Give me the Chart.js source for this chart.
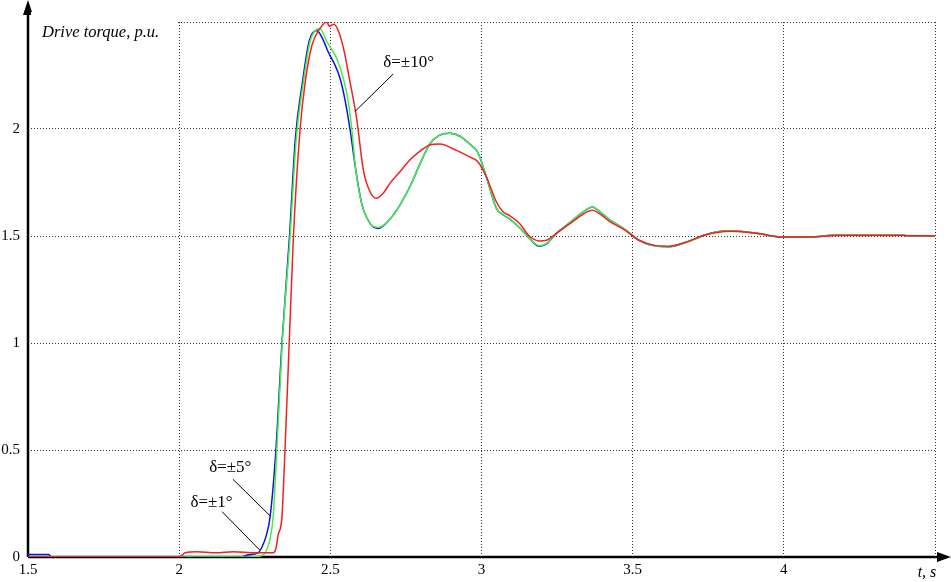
<!DOCTYPE html>
<html>
<head>
<meta charset="utf-8">
<script src="https://cdn.jsdelivr.net/npm/chart.js@4/dist/chart.umd.min.js"></script>
<style>
  html, body { margin: 0; padding: 0; background: #fff; }
  #wrap { width: 951px; height: 582px; }
</style>
</head>
<body>
<div id="wrap"><canvas id="torqueChart" width="951" height="582"></canvas></div>
<script>
// ================= DATA =================
const xTicks = [1.5, 2, 2.5, 3, 3.5, 4];
const yTicks = [0, 0.5, 1, 1.5, 2];

// delta = +-1 deg (blue)
const timeBlue = [1.5, 1.57, 1.575, 2.2, 2.23, 2.262, 2.275, 2.288, 2.301, 2.32, 2.34, 2.365, 2.384, 2.408, 2.43, 2.455, 2.475, 2.493, 2.515, 2.532, 2.548, 2.565,
  2.584, 2.604, 2.631, 2.658, 2.685, 2.719, 2.763, 2.807, 2.829, 2.86, 2.895, 2.93, 2.961, 2.988, 3.016, 3.049, 3.07, 3.093, 3.125, 3.158, 3.191, 3.215, 3.246, 3.29,
  3.334, 3.367, 3.39, 3.422, 3.477, 3.521, 3.576, 3.62, 3.684, 3.739, 3.78, 3.825, 3.87, 3.923, 3.96, 3.989, 4.087, 4.174, 4.392, 4.41, 4.5];
const torqueBlue = [0.012, 0.012, 0, 0, 0.01, 0.02, 0.05, 0.1, 0.19, 0.5, 1.0, 1.5, 1.95, 2.22, 2.41, 2.46, 2.42, 2.36, 2.30, 2.237, 2.14, 2.0,
  1.81, 1.65, 1.56, 1.535, 1.56, 1.62, 1.73, 1.87, 1.93, 1.97, 1.98, 1.965, 1.93, 1.89, 1.777, 1.63, 1.6, 1.58, 1.54, 1.49, 1.452, 1.463, 1.51, 1.56,
  1.61, 1.635, 1.615, 1.578, 1.528, 1.48, 1.453, 1.45, 1.474, 1.505, 1.52, 1.525, 1.52, 1.51, 1.5, 1.495, 1.495, 1.505, 1.505, 1.5, 1.5];

// delta = +-5 deg (green)
const timeGreen = [1.5, 2.2, 2.27, 2.285, 2.3, 2.311, 2.323, 2.341, 2.367, 2.387, 2.411, 2.433, 2.45, 2.465, 2.488, 2.521, 2.543, 2.559, 2.571,
  2.584, 2.604, 2.631, 2.658, 2.685, 2.719, 2.763, 2.807, 2.829, 2.86, 2.895, 2.93, 2.961, 2.988, 3.016, 3.049, 3.07, 3.093, 3.125, 3.158, 3.191, 3.215, 3.246, 3.29,
  3.334, 3.367, 3.39, 3.422, 3.477, 3.521, 3.576, 3.62, 3.684, 3.739, 3.78, 3.825, 3.87, 3.923, 3.96, 3.989, 4.087, 4.174, 4.392, 4.41, 4.5];
const torqueGreen = [0, 0, 0.005, 0.02, 0.08, 0.19, 0.5, 1.0, 1.5, 1.95, 2.22, 2.41, 2.46, 2.47, 2.41, 2.33, 2.237, 2.13, 2.0,
  1.81, 1.65, 1.56, 1.54, 1.56, 1.62, 1.73, 1.87, 1.93, 1.97, 1.98, 1.965, 1.93, 1.89, 1.777, 1.63, 1.6, 1.58, 1.54, 1.49, 1.455, 1.465, 1.51, 1.56,
  1.61, 1.635, 1.615, 1.578, 1.528, 1.48, 1.453, 1.45, 1.474, 1.505, 1.52, 1.525, 1.52, 1.51, 1.5, 1.495, 1.495, 1.505, 1.505, 1.5, 1.5];

// delta = +-10 deg (red)
const timeRed = [1.5, 2.0, 2.02, 2.06, 2.12, 2.18, 2.25, 2.31, 2.32, 2.327, 2.34, 2.35, 2.364, 2.378, 2.4, 2.417, 2.439, 2.466, 2.488, 2.497, 2.512, 2.526,
  2.543, 2.565, 2.587, 2.609, 2.63, 2.652, 2.675, 2.697, 2.73, 2.763, 2.8, 2.829, 2.862, 2.917, 2.96, 2.988, 3.016, 3.049, 3.07, 3.093, 3.125, 3.158, 3.191,
  3.215, 3.246, 3.29, 3.334, 3.367, 3.39, 3.422, 3.477, 3.521, 3.576, 3.62, 3.684, 3.739, 3.825, 3.923, 3.989, 4.087, 4.174, 4.392, 4.5];
const torqueRed = [0, 0, 0.02, 0.025, 0.02, 0.025, 0.02, 0.02, 0.04, 0.1, 0.19, 0.5, 1.0, 1.5, 2.0, 2.22, 2.39, 2.47, 2.5, 2.48, 2.49, 2.46,
  2.38, 2.22, 2.05, 1.81, 1.71, 1.676, 1.70, 1.746, 1.80, 1.855, 1.9, 1.925, 1.93, 1.90, 1.87, 1.847, 1.777, 1.66, 1.615, 1.595, 1.56, 1.50, 1.477,
  1.48, 1.51, 1.555, 1.60, 1.62, 1.605, 1.57, 1.525, 1.48, 1.455, 1.452, 1.475, 1.505, 1.522, 1.51, 1.495, 1.495, 1.502, 1.502, 1.5];

// annotation labels: [text, textX, textY, lineFromX, lineFromY, lineToX, lineToY] in data units
const notes = [
  ["\u03b4=\u00b110\u00b0", 2.759, 2.29, 2.708, 2.257, 2.581, 2.081],
  ["\u03b4=\u00b15\u00b0", 2.169, 0.397, 2.178, 0.363, 2.301, 0.192],
  ["\u03b4=\u00b11\u00b0", 2.107, 0.234, 2.142, 0.212, 2.266, 0.033]
];

const toPoints = (ts, vs) => ts.map((t, i) => ({ x: t, y: vs[i] }));

const serif = "'Liberation Serif', 'Times New Roman', serif";

// ================= AXES / LABELS PLUGIN =================
const decor = {
  id: "decor",
  beforeDatasetsDraw(chart) {
    const { ctx, scales: { x, y } } = chart;
    const x0 = x.getPixelForValue(1.5);
    const y0 = y.getPixelForValue(0);
    ctx.save();
    ctx.strokeStyle = "#000";
    ctx.fillStyle = "#000";
    ctx.lineWidth = 2.5;
    // x axis + arrow
    ctx.beginPath();
    ctx.moveTo(x0, y0);
    ctx.lineTo(940, y0);
    ctx.stroke();
    ctx.beginPath();
    ctx.moveTo(951, y0);
    ctx.lineTo(937, y0 - 5);
    ctx.lineTo(937, y0 + 5);
    ctx.closePath();
    ctx.fill();
    // y axis + arrow
    ctx.beginPath();
    ctx.moveTo(x0, y0);
    ctx.lineTo(x0, 12);
    ctx.stroke();
    ctx.beginPath();
    ctx.moveTo(x0, 0);
    ctx.lineTo(x0 - 5, 15);
    ctx.lineTo(x0 + 5, 15);
    ctx.closePath();
    ctx.fill();
    ctx.restore();
  },
  afterDraw(chart) {
    const { ctx, scales: { x, y } } = chart;
    ctx.save();
    // axis titles
    ctx.fillStyle = "#fff";
    ctx.fillRect(31, 12, 145, 26);
    ctx.fillStyle = "#000";
    ctx.font = "italic 16.5px " + serif;
    ctx.textAlign = "left";
    ctx.textBaseline = "alphabetic";
    ctx.fillText("Drive torque, p.u.", 42, 37);
    ctx.font = "italic 16px " + serif;
    ctx.textAlign = "center";
    ctx.fillText("t, s", 927, 577);

    // curve labels with leader lines
    ctx.font = "17px " + serif;
    ctx.lineWidth = 1;
    ctx.strokeStyle = "#000";
    notes.forEach(n => {
      ctx.fillText(n[0], x.getPixelForValue(n[1]), y.getPixelForValue(n[2]));
      ctx.beginPath();
      ctx.moveTo(x.getPixelForValue(n[3]), y.getPixelForValue(n[4]));
      ctx.lineTo(x.getPixelForValue(n[5]), y.getPixelForValue(n[6]));
      ctx.stroke();
    });
    ctx.restore();
  }
};

// ================= CHART =================
const ctx = document.getElementById("torqueChart").getContext("2d");

const lineStyle = {
  borderWidth: 1.5,
  pointRadius: 0,
  fill: false,
  cubicInterpolationMode: "monotone"
};

new Chart(ctx, {
  type: "line",
  data: {
    datasets: [
      { label: "\u03b4=\u00b11\u00b0", data: toPoints(timeBlue, torqueBlue), borderColor: "#1010e0", order: 3, ...lineStyle },
      { label: "\u03b4=\u00b15\u00b0", data: toPoints(timeGreen, torqueGreen), borderColor: "#44f044", order: 2, ...lineStyle },
      { label: "\u03b4=\u00b110\u00b0", data: toPoints(timeRed, torqueRed), borderColor: "#f22020", order: 1, ...lineStyle }
    ]
  },
  options: {
    responsive: false,
    animation: false,
    layout: { padding: { top: 22, right: 16, left: 0, bottom: 0 } },
    plugins: {
      legend: { display: false },
      tooltip: { enabled: false }
    },
    scales: {
      x: {
        type: "linear",
        min: 1.5,
        max: 4.5,
        afterFit: s => { s.height = 25; },
        afterBuildTicks: s => { s.ticks = xTicks.concat([4.5]).map(v => ({ value: v })); },
        ticks: {
          callback: v => (xTicks.includes(v) ? String(v) : ""),
          color: "#000",
          font: { family: serif, size: 15 },
          maxRotation: 0,
          padding: 4
        },
        grid: {
          color: c => (c.tick && c.tick.value === 1.5 ? "rgba(0,0,0,0)" : "#333"),
          lineWidth: 1,
          drawTicks: false
        },
        border: { display: false, dash: [1, 2] }
      },
      y: {
        min: 0,
        max: 2.5,
        afterFit: s => { s.width = 28; },
        afterBuildTicks: s => { s.ticks = yTicks.concat([2.5]).map(v => ({ value: v })); },
        ticks: {
          callback: v => (yTicks.includes(v) ? String(v) : ""),
          color: "#000",
          font: { family: serif, size: 15 },
          padding: 8
        },
        grid: {
          color: c => (c.tick && c.tick.value === 0 ? "rgba(0,0,0,0)" : "#333"),
          lineWidth: 1,
          drawTicks: false
        },
        border: { display: false, dash: [1, 2] }
      }
    }
  },
  plugins: [decor]
});
</script>
</body>
</html>
